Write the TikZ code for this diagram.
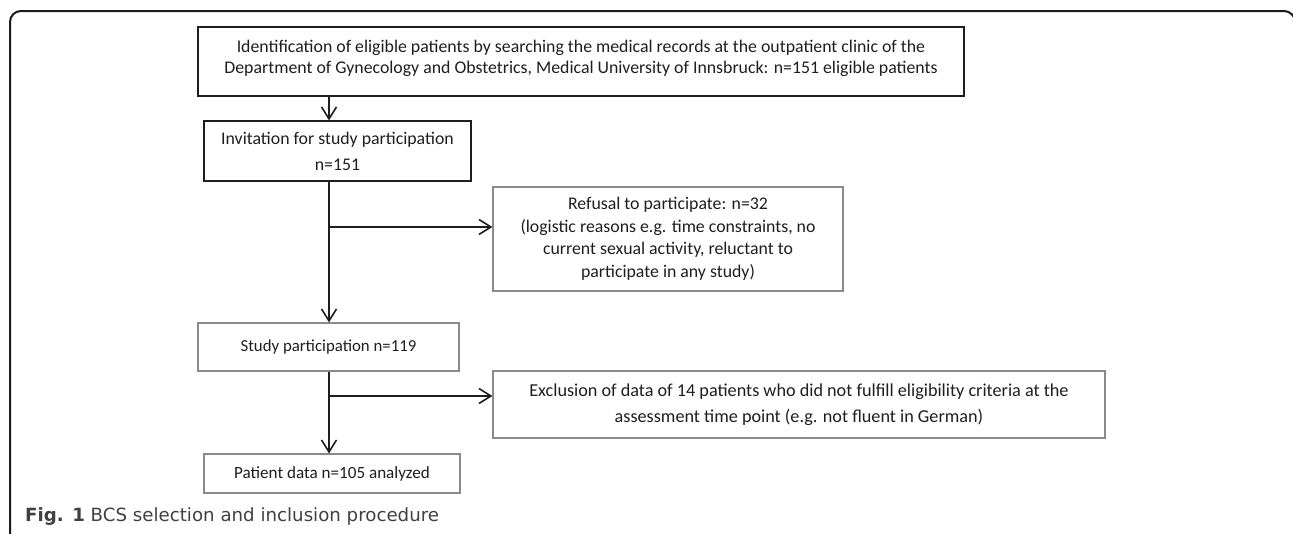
\documentclass[tikz,border=0pt]{standalone}
\usepackage{fontspec}
\setmainfont{Carlito}
\newfontfamily\capfont{DejaVu Sans}
\usepackage{tikz}
\usetikzlibrary{arrows.meta,positioning,calc}
\definecolor{bcsink} {HTML}{1E1E1E}
\definecolor{bcsedge}{HTML}{8A8A8A}
\definecolor{bcsrule}{HTML}{1A1A1A}

\begin{document}
\begin{tikzpicture}[
  x=1pt, y=-1pt,
  box/.style={draw=bcsedge, line width=1.1pt, inner sep=0pt, align=center,
              text=bcsink, font=\fontsize{17.8}{21}\selectfont},
  darkbox/.style={box, draw=bcsink, line width=1.2pt},
  flow/.style={draw=bcsink, line width=2pt,
               -{Straight Barb[length=12pt, width=15pt, line width=1.6pt]}},
]
  \useasboundingbox (0,0) rectangle (1293,533);

  % Outer frame: open at the bottom, right side runs off the page.
  \draw[bcsrule, line width=2pt, rounded corners=11pt]
    (10,560) -- (10,11) -- (1295,11) -- (1295,560);

  \coordinate (spine) at (329,0);
  \coordinate (br1)   at (329,227);
  \coordinate (br2)   at (329,396);

  \node[darkbox, minimum width=766, minimum height=69, text depth=9pt] (ident) at (581,61.5)
    {Identification of eligible patients by searching the medical records at the outpatient clinic of the\\
     Department of Gynecology and Obstetrics, Medical University of Innsbruck: n=151 eligible patients};
  \node[darkbox, minimum width=267, minimum height=60] (invite) at (337.5,151)
    {Invitation for study participation\\[5pt] n=151};
  \node[box, minimum width=350, minimum height=104] (refusal) at (668,239)
    {Refusal to participate: n=32\\[1.5pt]
     (logistic reasons e.g. time constraints, no\\[1.5pt]
     current sexual activity, reluctant to\\[1.5pt]
     participate in any study)};
  \node[box, minimum width=261, minimum height=48, font=\fontsize{16.8}{20}\selectfont]
    (study) at (328.5,347) {Study participation n=119};
  \node[box, minimum width=612, minimum height=67, font=\fontsize{18.2}{21}\selectfont]
    (exclusion) at (799,404.5)
    {Exclusion of data of 14 patients who did not fulfill eligibility criteria at the\\[5pt]
     assessment time point (e.g. not fluent in German)};
  \node[box, minimum width=256, minimum height=39, font=\fontsize{17.1}{20}\selectfont]
    (patient) at (332,473.5) {Patient data n=105 analyzed};

  % Main line down, with the two side exits.
  \draw[flow] (ident.south -| spine) -- (invite.north -| spine);
  \draw[flow] (invite.south -| spine) -- (study.north -| spine);
  \draw[flow] (br1) -- (refusal.west |- br1);
  \draw[flow] (study.south -| spine) -- (patient.north -| spine);
  \draw[flow] (br2) -- (exclusion.west |- br2);

  \node[anchor=west, inner sep=0pt, text=bcsink!85, font=\capfont\fontsize{18.2}{21}\selectfont]
    (caption) at (25,517) {\textbf{Fig. 1} BCS selection and inclusion procedure};
\end{tikzpicture}
\end{document}
